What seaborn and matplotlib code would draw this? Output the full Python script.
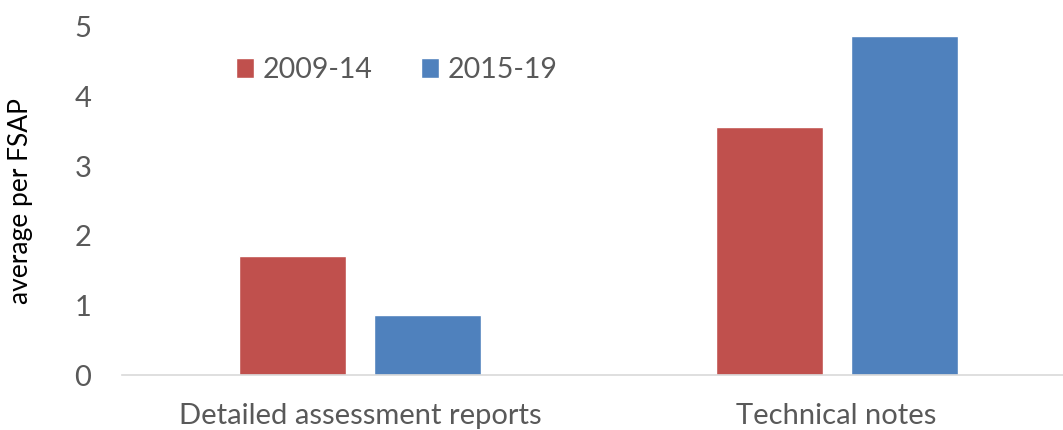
import pandas as pd
import seaborn as sns
import matplotlib.pyplot as plt

# values
categories = ['Detailed assessment reports', 'Technical notes']
periods = ['2009-14', '2015-19']
avg_2009_14 = [1.71, 3.56]
avg_2015_19 = [0.86, 4.87]

df = pd.DataFrame({
    'category': categories * 2,
    'period': [periods[0]] * 2 + [periods[1]] * 2,
    'value': avg_2009_14 + avg_2015_19,
})

sns.set_style('white')
plt.rcParams['font.family'] = ['Lato', 'DejaVu Sans']
text_color = '#595959'

fig = plt.figure(figsize=(10.63, 4.30), dpi=100)
ax = fig.add_axes([122 / 1063, 55 / 430, 941 / 1063, 348 / 430])

sns.barplot(data=df, x='category', y='value', hue='period',
            palette=['#C0504D', '#4F81BD'], saturation=1, width=0.567, gap=0.208,
            errorbar=None, ax=ax)

ax.set_ylim(0, 5)
ax.set_xlim(-0.5, 1.475)
ax.set_yticks(range(6))
ax.tick_params(axis='both', length=0, labelsize=21, colors=text_color)
ax.tick_params(axis='y', pad=22)
ax.tick_params(axis='x', pad=20)
ax.set_xlabel('')
ax.set_ylabel('average per FSAP', fontsize=19, color='black', labelpad=30)

for side in ['top', 'right', 'left']:
    ax.spines[side].set_visible(False)
ax.spines['bottom'].set_color('#D9D9D9')
ax.spines['bottom'].set_linewidth(1.2)

ax.legend_.remove()
handles, labels = ax.get_legend_handles_labels()
fig.legend(handles, labels, loc='center left', bbox_to_anchor=(210 / 1063, 1 - 70 / 430),
           ncol=2, frameon=False, fontsize=20.5, handlelength=0.65, handleheight=0.65,
           handletextpad=0.3, columnspacing=1.7, labelcolor=text_color)

plt.savefig('out.png', dpi=100)
